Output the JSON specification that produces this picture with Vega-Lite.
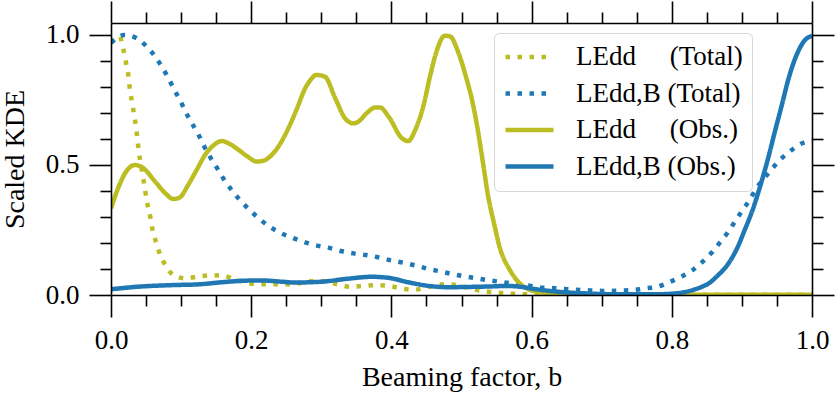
{
  "$schema": "https://vega.github.io/schema/vega-lite/v6.json",
  "width": 701,
  "height": 272,
  "autosize": {"type": "none"},
  "padding": {"left": 111, "top": 23, "right": 28, "bottom": 102},
  "background": "white",
  "config": {
    "view": {"stroke": null},
    "font": "Liberation Serif",
    "axis": {"grid": false, "domainColor": "black", "tickColor": "black", "domainWidth": 1.6, "tickWidth": 1.6, "labelColor": "black", "titleColor": "black", "labelFont": "Liberation Serif", "titleFont": "Liberation Serif", "labelFontSize": 27, "titleFontSize": 28, "titleFontWeight": "normal", "labelFlush": false},
    "legend": {"labelFont": "Liberation Serif", "labelFontSize": 27, "labelColor": "black", "labelOffset": 20, "labelLimit": 400,
               "symbolType": "stroke", "symbolStrokeWidth": 4.5, "symbolSize": 2304, "clipHeight": 30,
               "padding": 9, "rowPadding": 6.5, "cornerRadius": 5, "strokeColor": "#d6d6d6", "fillColor": "rgba(255,255,255,0.8)"}
  },
  "data": {"values": [
    {"b": 0.0, "v": 0.97, "s": "T1"}, {"b": 0.012, "v": 0.995, "s": "T1"}, {"b": 0.018, "v": 0.94, "s": "T1"}, {"b": 0.022, "v": 0.885, "s": "T1"}, {"b": 0.025, "v": 0.84, "s": "T1"}, {"b": 0.027, "v": 0.79, "s": "T1"}, {"b": 0.03, "v": 0.741, "s": "T1"}, {"b": 0.033, "v": 0.692, "s": "T1"}, {"b": 0.036, "v": 0.641, "s": "T1"}, {"b": 0.038, "v": 0.592, "s": "T1"}, {"b": 0.04, "v": 0.545, "s": "T1"}, {"b": 0.043, "v": 0.497, "s": "T1"}, {"b": 0.046, "v": 0.449, "s": "T1"}, {"b": 0.049, "v": 0.397, "s": "T1"}, {"b": 0.052, "v": 0.35, "s": "T1"}, {"b": 0.056, "v": 0.301, "s": "T1"}, {"b": 0.059, "v": 0.254, "s": "T1"}, {"b": 0.064, "v": 0.205, "s": "T1"}, {"b": 0.07, "v": 0.156, "s": "T1"}, {"b": 0.078, "v": 0.113, "s": "T1"}, {"b": 0.089, "v": 0.077, "s": "T1"}, {"b": 0.106, "v": 0.064, "s": "T1"}, {"b": 0.125, "v": 0.071, "s": "T1"}, {"b": 0.143, "v": 0.076, "s": "T1"}, {"b": 0.16, "v": 0.074, "s": "T1"}, {"b": 0.179, "v": 0.058, "s": "T1"}, {"b": 0.196, "v": 0.045, "s": "T1"}, {"b": 0.215, "v": 0.041, "s": "T1"}, {"b": 0.234, "v": 0.041, "s": "T1"}, {"b": 0.251, "v": 0.041, "s": "T1"}, {"b": 0.267, "v": 0.045, "s": "T1"}, {"b": 0.286, "v": 0.053, "s": "T1"}, {"b": 0.305, "v": 0.053, "s": "T1"}, {"b": 0.323, "v": 0.041, "s": "T1"}, {"b": 0.341, "v": 0.032, "s": "T1"}, {"b": 0.36, "v": 0.035, "s": "T1"}, {"b": 0.378, "v": 0.038, "s": "T1"}, {"b": 0.396, "v": 0.035, "s": "T1"}, {"b": 0.414, "v": 0.026, "s": "T1"}, {"b": 0.431, "v": 0.02, "s": "T1"}, {"b": 0.449, "v": 0.028, "s": "T1"}, {"b": 0.467, "v": 0.04, "s": "T1"}, {"b": 0.485, "v": 0.04, "s": "T1"}, {"b": 0.503, "v": 0.032, "s": "T1"}, {"b": 0.522, "v": 0.019, "s": "T1"}, {"b": 0.54, "v": 0.012, "s": "T1"}, {"b": 0.56, "v": 0.007, "s": "T1"}, {"b": 0.58, "v": 0.004, "s": "T1"}, {"b": 0.62, "v": 0.002, "s": "T1"}, {"b": 0.7, "v": 0.001, "s": "T1"}, {"b": 0.8, "v": 0.001, "s": "T1"}, {"b": 0.9, "v": 0.001, "s": "T1"}, {"b": 1.0, "v": 0.001, "s": "T1"},

    {"b": 0.0, "v": 0.97, "s": "T2"}, {"b": 0.019, "v": 1.0, "s": "T2"}, {"b": 0.037, "v": 0.987, "s": "T2"}, {"b": 0.051, "v": 0.955, "s": "T2"}, {"b": 0.063, "v": 0.917, "s": "T2"}, {"b": 0.073, "v": 0.876, "s": "T2"}, {"b": 0.082, "v": 0.833, "s": "T2"}, {"b": 0.09, "v": 0.791, "s": "T2"}, {"b": 0.099, "v": 0.746, "s": "T2"}, {"b": 0.107, "v": 0.701, "s": "T2"}, {"b": 0.116, "v": 0.658, "s": "T2"}, {"b": 0.125, "v": 0.615, "s": "T2"}, {"b": 0.133, "v": 0.571, "s": "T2"}, {"b": 0.142, "v": 0.528, "s": "T2"}, {"b": 0.152, "v": 0.485, "s": "T2"}, {"b": 0.161, "v": 0.445, "s": "T2"}, {"b": 0.172, "v": 0.404, "s": "T2"}, {"b": 0.184, "v": 0.365, "s": "T2"}, {"b": 0.197, "v": 0.329, "s": "T2"}, {"b": 0.21, "v": 0.297, "s": "T2"}, {"b": 0.224, "v": 0.267, "s": "T2"}, {"b": 0.24, "v": 0.241, "s": "T2"}, {"b": 0.257, "v": 0.222, "s": "T2"}, {"b": 0.274, "v": 0.205, "s": "T2"}, {"b": 0.291, "v": 0.192, "s": "T2"}, {"b": 0.31, "v": 0.182, "s": "T2"}, {"b": 0.328, "v": 0.169, "s": "T2"}, {"b": 0.346, "v": 0.16, "s": "T2"}, {"b": 0.363, "v": 0.154, "s": "T2"}, {"b": 0.381, "v": 0.145, "s": "T2"}, {"b": 0.399, "v": 0.133, "s": "T2"}, {"b": 0.417, "v": 0.124, "s": "T2"}, {"b": 0.435, "v": 0.113, "s": "T2"}, {"b": 0.453, "v": 0.1, "s": "T2"}, {"b": 0.471, "v": 0.09, "s": "T2"}, {"b": 0.488, "v": 0.08, "s": "T2"}, {"b": 0.506, "v": 0.071, "s": "T2"}, {"b": 0.524, "v": 0.063, "s": "T2"}, {"b": 0.543, "v": 0.055, "s": "T2"}, {"b": 0.56, "v": 0.049, "s": "T2"}, {"b": 0.579, "v": 0.041, "s": "T2"}, {"b": 0.597, "v": 0.036, "s": "T2"}, {"b": 0.616, "v": 0.028, "s": "T2"}, {"b": 0.633, "v": 0.026, "s": "T2"}, {"b": 0.652, "v": 0.022, "s": "T2"}, {"b": 0.671, "v": 0.019, "s": "T2"}, {"b": 0.69, "v": 0.017, "s": "T2"}, {"b": 0.708, "v": 0.015, "s": "T2"}, {"b": 0.726, "v": 0.017, "s": "T2"}, {"b": 0.745, "v": 0.019, "s": "T2"}, {"b": 0.764, "v": 0.026, "s": "T2"}, {"b": 0.78, "v": 0.032, "s": "T2"}, {"b": 0.797, "v": 0.05, "s": "T2"}, {"b": 0.814, "v": 0.071, "s": "T2"}, {"b": 0.83, "v": 0.096, "s": "T2"}, {"b": 0.844, "v": 0.128, "s": "T2"}, {"b": 0.857, "v": 0.163, "s": "T2"}, {"b": 0.869, "v": 0.203, "s": "T2"}, {"b": 0.88, "v": 0.241, "s": "T2"}, {"b": 0.89, "v": 0.282, "s": "T2"}, {"b": 0.9, "v": 0.323, "s": "T2"}, {"b": 0.911, "v": 0.365, "s": "T2"}, {"b": 0.92, "v": 0.408, "s": "T2"}, {"b": 0.931, "v": 0.446, "s": "T2"}, {"b": 0.943, "v": 0.485, "s": "T2"}, {"b": 0.954, "v": 0.519, "s": "T2"}, {"b": 0.968, "v": 0.551, "s": "T2"}, {"b": 0.983, "v": 0.58, "s": "T2"}, {"b": 1.0, "v": 0.595, "s": "T2"},

    {"b": 0.0, "v": 0.333, "s": "O1"}, {"b": 0.01, "v": 0.41, "s": "O1"}, {"b": 0.02, "v": 0.468, "s": "O1"}, {"b": 0.034, "v": 0.5, "s": "O1"}, {"b": 0.045, "v": 0.49, "s": "O1"}, {"b": 0.063, "v": 0.436, "s": "O1"}, {"b": 0.078, "v": 0.39, "s": "O1"}, {"b": 0.089, "v": 0.369, "s": "O1"}, {"b": 0.098, "v": 0.375, "s": "O1"}, {"b": 0.11, "v": 0.423, "s": "O1"}, {"b": 0.122, "v": 0.48, "s": "O1"}, {"b": 0.134, "v": 0.538, "s": "O1"}, {"b": 0.146, "v": 0.575, "s": "O1"}, {"b": 0.158, "v": 0.592, "s": "O1"}, {"b": 0.17, "v": 0.58, "s": "O1"}, {"b": 0.182, "v": 0.558, "s": "O1"}, {"b": 0.195, "v": 0.532, "s": "O1"}, {"b": 0.208, "v": 0.513, "s": "O1"}, {"b": 0.218, "v": 0.517, "s": "O1"}, {"b": 0.229, "v": 0.538, "s": "O1"}, {"b": 0.241, "v": 0.58, "s": "O1"}, {"b": 0.253, "v": 0.641, "s": "O1"}, {"b": 0.265, "v": 0.715, "s": "O1"}, {"b": 0.277, "v": 0.795, "s": "O1"}, {"b": 0.284, "v": 0.825, "s": "O1"}, {"b": 0.293, "v": 0.846, "s": "O1"}, {"b": 0.305, "v": 0.84, "s": "O1"}, {"b": 0.32, "v": 0.756, "s": "O1"}, {"b": 0.334, "v": 0.679, "s": "O1"}, {"b": 0.346, "v": 0.66, "s": "O1"}, {"b": 0.353, "v": 0.667, "s": "O1"}, {"b": 0.365, "v": 0.7, "s": "O1"}, {"b": 0.377, "v": 0.721, "s": "O1"}, {"b": 0.384, "v": 0.721, "s": "O1"}, {"b": 0.396, "v": 0.686, "s": "O1"}, {"b": 0.415, "v": 0.603, "s": "O1"}, {"b": 0.424, "v": 0.592, "s": "O1"}, {"b": 0.434, "v": 0.635, "s": "O1"}, {"b": 0.446, "v": 0.731, "s": "O1"}, {"b": 0.455, "v": 0.84, "s": "O1"}, {"b": 0.465, "v": 0.942, "s": "O1"}, {"b": 0.476, "v": 0.997, "s": "O1"}, {"b": 0.484, "v": 0.994, "s": "O1"}, {"b": 0.495, "v": 0.936, "s": "O1"}, {"b": 0.507, "v": 0.833, "s": "O1"}, {"b": 0.515, "v": 0.75, "s": "O1"}, {"b": 0.522, "v": 0.654, "s": "O1"}, {"b": 0.53, "v": 0.52, "s": "O1"}, {"b": 0.538, "v": 0.38, "s": "O1"}, {"b": 0.546, "v": 0.28, "s": "O1"}, {"b": 0.555, "v": 0.179, "s": "O1"}, {"b": 0.569, "v": 0.096, "s": "O1"}, {"b": 0.583, "v": 0.045, "s": "O1"}, {"b": 0.597, "v": 0.02, "s": "O1"}, {"b": 0.607, "v": 0.013, "s": "O1"}, {"b": 0.636, "v": 0.004, "s": "O1"}, {"b": 0.7, "v": 0.001, "s": "O1"}, {"b": 0.8, "v": 0.001, "s": "O1"}, {"b": 1.0, "v": 0.001, "s": "O1"},

    {"b": 0.0, "v": 0.022, "s": "O2"}, {"b": 0.039, "v": 0.032, "s": "O2"}, {"b": 0.087, "v": 0.038, "s": "O2"}, {"b": 0.125, "v": 0.041, "s": "O2"}, {"b": 0.158, "v": 0.049, "s": "O2"}, {"b": 0.191, "v": 0.055, "s": "O2"}, {"b": 0.215, "v": 0.056, "s": "O2"}, {"b": 0.244, "v": 0.051, "s": "O2"}, {"b": 0.262, "v": 0.048, "s": "O2"}, {"b": 0.3, "v": 0.051, "s": "O2"}, {"b": 0.339, "v": 0.063, "s": "O2"}, {"b": 0.372, "v": 0.07, "s": "O2"}, {"b": 0.396, "v": 0.066, "s": "O2"}, {"b": 0.424, "v": 0.049, "s": "O2"}, {"b": 0.453, "v": 0.035, "s": "O2"}, {"b": 0.481, "v": 0.03, "s": "O2"}, {"b": 0.51, "v": 0.031, "s": "O2"}, {"b": 0.543, "v": 0.033, "s": "O2"}, {"b": 0.565, "v": 0.035, "s": "O2"}, {"b": 0.583, "v": 0.032, "s": "O2"}, {"b": 0.607, "v": 0.022, "s": "O2"}, {"b": 0.636, "v": 0.013, "s": "O2"}, {"b": 0.679, "v": 0.006, "s": "O2"}, {"b": 0.72, "v": 0.003, "s": "O2"}, {"b": 0.78, "v": 0.003, "s": "O2"}, {"b": 0.8, "v": 0.005, "s": "O2"}, {"b": 0.816, "v": 0.01, "s": "O2"}, {"b": 0.831, "v": 0.02, "s": "O2"}, {"b": 0.845, "v": 0.034, "s": "O2"}, {"b": 0.854, "v": 0.047, "s": "O2"}, {"b": 0.864, "v": 0.071, "s": "O2"}, {"b": 0.881, "v": 0.122, "s": "O2"}, {"b": 0.893, "v": 0.179, "s": "O2"}, {"b": 0.904, "v": 0.25, "s": "O2"}, {"b": 0.916, "v": 0.333, "s": "O2"}, {"b": 0.928, "v": 0.436, "s": "O2"}, {"b": 0.938, "v": 0.532, "s": "O2"}, {"b": 0.947, "v": 0.628, "s": "O2"}, {"b": 0.957, "v": 0.731, "s": "O2"}, {"b": 0.966, "v": 0.827, "s": "O2"}, {"b": 0.978, "v": 0.923, "s": "O2"}, {"b": 0.988, "v": 0.974, "s": "O2"}, {"b": 1.0, "v": 0.997, "s": "O2"}
  ]},
  "resolve": {"axis": {"x": "independent", "y": "independent"}},
  "layer": [
    {
      "mark": {"type": "line", "strokeWidth": 4.5, "strokeCap": "butt", "clip": true, "interpolate": "monotone"},
      "encoding": {
        "x": {"field": "b", "type": "quantitative", "scale": {"domain": [0, 1], "nice": false, "zero": false},
              "axis": {"orient": "bottom", "values": [0, 0.2, 0.4, 0.6, 0.8, 1.0], "format": ".1f", "tickSize": 22, "labelPadding": 10, "title": "Beaming factor, b", "titlePadding": 10, "zindex": 1}},
        "y": {"field": "v", "type": "quantitative", "scale": {"domain": [0, 1.046], "nice": false, "zero": false},
              "axis": {"orient": "left", "values": [0, 0.5, 1.0], "format": ".1f", "tickSize": 22, "labelPadding": 10, "title": "Scaled KDE", "titlePadding": 16, "zindex": 1}},
        "color": {"field": "s", "type": "nominal",
                  "scale": {"domain": ["T1", "T2", "O1", "O2"], "range": ["#bcbd22", "#1f77b4", "#bcbd22", "#1f77b4"]},
                  "legend": {"title": null, "orient": "none", "legendX": 383, "legendY": 10,
                             "labelExpr": "datum.value == 'T1' ? 'LEdd\u00a0\u00a0\u00a0\u00a0 (Total)' : datum.value == 'T2' ? 'LEdd,B (Total)' : datum.value == 'O1' ? 'LEdd\u00a0\u00a0\u00a0\u00a0 (Obs.)' : 'LEdd,B (Obs.)'"}},
        "strokeDash": {"field": "s", "type": "nominal",
                       "scale": {"domain": ["T1", "T2", "O1", "O2"], "range": [[4.5, 7.5], [4.5, 7.5], [1, 0], [1, 0]]},
                       "legend": {"title": null, "orient": "none", "legendX": 383, "legendY": 10,
                             "labelExpr": "datum.value == 'T1' ? 'LEdd\u00a0\u00a0\u00a0\u00a0 (Total)' : datum.value == 'T2' ? 'LEdd,B (Total)' : datum.value == 'O1' ? 'LEdd\u00a0\u00a0\u00a0\u00a0 (Obs.)' : 'LEdd,B (Obs.)'"}}
      }
    },
    {
      "mark": {"type": "line", "opacity": 0},
      "encoding": {
        "x": {"field": "b", "type": "quantitative", "axis": {"orient": "bottom", "values": [0.05, 0.1, 0.15, 0.25, 0.3, 0.35, 0.45, 0.5, 0.55, 0.65, 0.7, 0.75, 0.85, 0.9, 0.95], "tickSize": 11, "labels": false, "domain": false, "title": null}},
        "y": {"field": "v", "type": "quantitative", "axis": {"orient": "left", "values": [0.1, 0.2, 0.3, 0.4, 0.6, 0.7, 0.8, 0.9], "tickSize": 11, "labels": false, "domain": false, "title": null}}
      }
    },
    {
      "mark": {"type": "line", "opacity": 0},
      "encoding": {
        "x": {"field": "b", "type": "quantitative", "axis": {"orient": "top", "values": [0, 0.2, 0.4, 0.6, 0.8, 1.0], "tickSize": 22, "labels": false, "title": null, "zindex": 1}},
        "y": {"field": "v", "type": "quantitative", "axis": {"orient": "right", "values": [0, 0.5, 1.0], "tickSize": 22, "labels": false, "title": null, "zindex": 1}}
      }
    },
    {
      "mark": {"type": "line", "opacity": 0},
      "encoding": {
        "x": {"field": "b", "type": "quantitative", "axis": {"orient": "top", "values": [0.05, 0.1, 0.15, 0.25, 0.3, 0.35, 0.45, 0.5, 0.55, 0.65, 0.7, 0.75, 0.85, 0.9, 0.95], "tickSize": 11, "labels": false, "domain": false, "title": null}},
        "y": {"field": "v", "type": "quantitative", "axis": {"orient": "right", "values": [0.1, 0.2, 0.3, 0.4, 0.6, 0.7, 0.8, 0.9], "tickSize": 11, "labels": false, "domain": false, "title": null}}
      }
    }
  ]
}
